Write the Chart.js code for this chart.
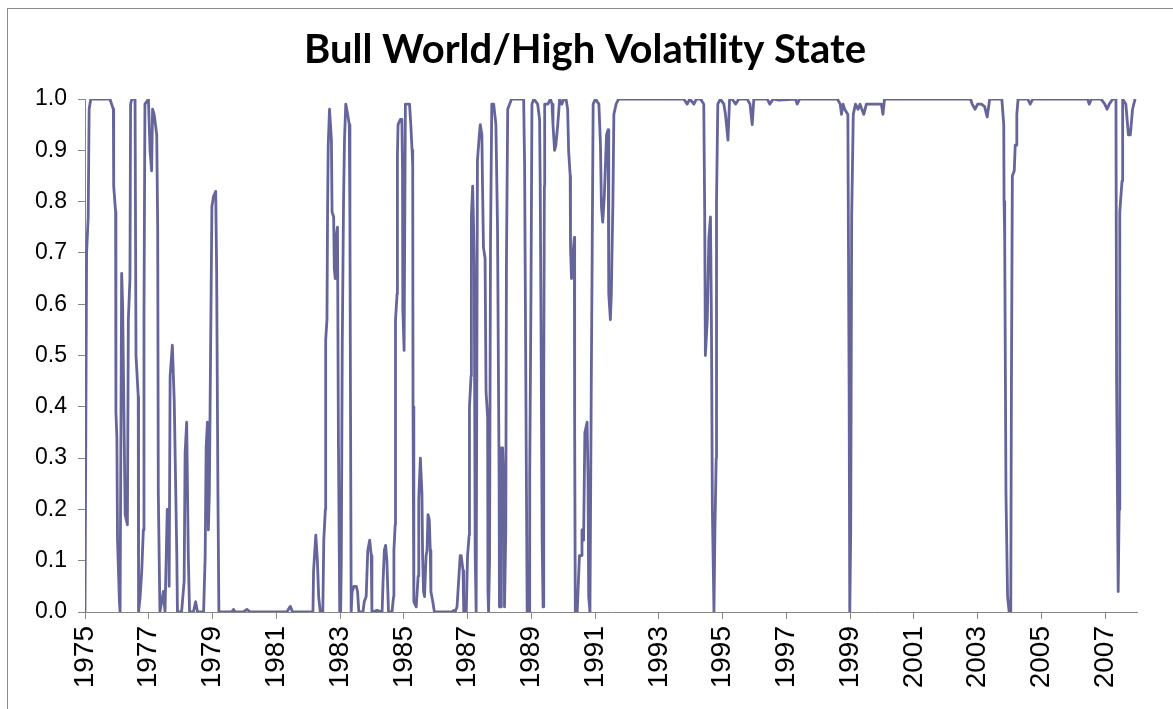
<!DOCTYPE html>
<html>
<head>
<meta charset="utf-8">
<script src="https://cdn.jsdelivr.net/npm/chart.js@4"></script>
<style>
  body { margin: 0; background: #fff; }
  #frame { position: absolute; left: 7px; top: 8px; width: 1200px; height: 720px; border: 1px solid #8c8c8c; }
  #wrap { position: absolute; left: 0; top: 0; width: 1173px; height: 709px; }
</style>
</head>
<body>
<div id="frame"></div>
<div id="wrap"><canvas id="state-chart"></canvas></div>
<script>
'use strict';

// decimal year of each turning point of the series
const years = [
  1975.00, 1975.05, 1975.10, 1975.13, 1975.18, 1975.78, 1975.89, 1975.90, 1975.96, 1975.97,
  1976.00, 1976.02, 1976.08, 1976.10, 1976.15, 1976.18, 1976.26, 1976.33, 1976.36, 1976.41,
  1976.43, 1976.47, 1976.57, 1976.60, 1976.67, 1976.68, 1976.73, 1976.78, 1976.83, 1976.85,
  1976.88, 1976.99, 1977.04, 1977.09, 1977.12, 1977.17, 1977.25, 1977.28, 1977.30, 1977.35,
  1977.46, 1977.51, 1977.58, 1977.63, 1977.64, 1977.67, 1977.74, 1977.80, 1977.88, 1977.90,
  1978.03, 1978.11, 1978.14, 1978.19, 1978.24, 1978.28, 1978.40, 1978.47, 1978.53, 1978.72,
  1978.77, 1978.80, 1978.84, 1978.87, 1978.90, 1978.98, 1979.03, 1979.10, 1979.13, 1979.17,
  1979.20, 1979.60, 1979.66, 1979.71, 1979.97, 1980.08, 1980.18, 1981.33, 1981.44, 1981.51,
  1982.15, 1982.17, 1982.24, 1982.29, 1982.33, 1982.38, 1982.46, 1982.49, 1982.54, 1982.55,
  1982.59, 1982.61, 1982.63, 1982.67, 1982.73, 1982.75, 1982.80, 1982.82, 1982.85, 1982.88,
  1982.92, 1982.95, 1982.99, 1983.02, 1983.04, 1983.07, 1983.11, 1983.14, 1983.18, 1983.24,
  1983.29, 1983.31, 1983.33, 1983.35, 1983.38, 1983.44, 1983.51, 1983.55, 1983.59, 1983.72,
  1983.76, 1983.82, 1983.87, 1983.93, 1983.98, 1984.00, 1984.16, 1984.32, 1984.35, 1984.39,
  1984.43, 1984.47, 1984.52, 1984.63, 1984.68, 1984.69, 1984.73, 1984.74, 1984.79, 1984.80,
  1984.82, 1984.89, 1984.94, 1984.96, 1984.97, 1985.01, 1985.05, 1985.12, 1985.18, 1985.22,
  1985.26, 1985.28, 1985.29, 1985.31, 1985.32, 1985.39, 1985.41, 1985.45, 1985.47, 1985.52,
  1985.57, 1985.59, 1985.62, 1985.65, 1985.70, 1985.73, 1985.76, 1985.80, 1985.83, 1985.85,
  1985.91, 1985.96, 1986.51, 1986.56, 1986.61, 1986.67, 1986.74, 1986.77, 1986.80, 1986.86,
  1986.88, 1986.96, 1987.00, 1987.05, 1987.06, 1987.11, 1987.12, 1987.16, 1987.19, 1987.21,
  1987.24, 1987.27, 1987.31, 1987.37, 1987.40, 1987.45, 1987.47, 1987.50, 1987.55, 1987.58,
  1987.63, 1987.64, 1987.66, 1987.69, 1987.72, 1987.76, 1987.82, 1987.89, 1987.94, 1987.99,
  1988.00, 1988.05, 1988.06, 1988.10, 1988.14, 1988.16, 1988.20, 1988.22, 1988.26, 1988.38,
  1988.76, 1988.79, 1988.84, 1988.87, 1988.93, 1988.95, 1988.99, 1989.02, 1989.08, 1989.20,
  1989.26, 1989.28, 1989.31, 1989.34, 1989.37, 1989.39, 1989.41, 1989.42, 1989.52, 1989.60,
  1989.65, 1989.68, 1989.73, 1989.77, 1989.83, 1989.89, 1989.96, 1990.02, 1990.09, 1990.14,
  1990.17, 1990.22, 1990.23, 1990.26, 1990.31, 1990.35, 1990.36, 1990.38, 1990.44, 1990.51,
  1990.56, 1990.59, 1990.64, 1990.68, 1990.75, 1990.78, 1990.80, 1990.84, 1990.88, 1990.91,
  1990.94, 1991.01, 1991.12, 1991.17, 1991.20, 1991.24, 1991.29, 1991.36, 1991.41, 1991.43,
  1991.48, 1991.51, 1991.56, 1991.59, 1991.66, 1991.74, 1993.78, 1993.89, 1993.97, 1994.10,
  1994.18, 1994.31, 1994.41, 1994.44, 1994.46, 1994.52, 1994.57, 1994.62, 1994.65, 1994.68,
  1994.73, 1994.76, 1994.80, 1994.81, 1994.85, 1994.93, 1995.04, 1995.09, 1995.17, 1995.22,
  1995.30, 1995.41, 1995.51, 1995.77, 1995.86, 1995.93, 1995.98, 1996.40, 1996.48, 1996.59,
  1996.77, 1997.29, 1997.34, 1997.42, 1998.60, 1998.69, 1998.73, 1998.78, 1998.83, 1998.93,
  1998.97, 1998.99, 1999.02, 1999.05, 1999.10, 1999.17, 1999.25, 1999.31, 1999.43, 1999.51,
  1999.71, 1999.80, 1999.90, 1999.98, 2000.03, 2000.08, 2002.78, 2002.83, 2002.92, 2003.00,
  2003.12, 2003.22, 2003.30, 2003.38, 2003.76, 2003.82, 2003.83, 2003.85, 2003.89, 2003.94,
  2003.99, 2004.04, 2004.06, 2004.09, 2004.15, 2004.18, 2004.22, 2004.23, 2004.27, 2004.57,
  2004.65, 2004.73, 2006.35, 2006.45, 2006.50, 2006.57, 2006.87, 2006.99, 2007.06, 2007.13,
  2007.24, 2007.34, 2007.36, 2007.41, 2007.44, 2007.46, 2007.53, 2007.55, 2007.65, 2007.73,
  2007.79, 2007.86, 2007.94
];

// probability of the bull world / high volatility state
const bullHighVol = [
  0.00, 0.70, 0.77, 0.98, 1.00, 1.00, 0.98, 0.83, 0.78, 0.39,
  0.34, 0.14, 0.02, 0.00, 0.66, 0.60, 0.19, 0.17, 0.57, 0.65,
  0.99, 1.00, 1.00, 0.50, 0.42, 0.00, 0.03, 0.08, 0.16, 0.57,
  0.99, 1.00, 0.90, 0.86, 0.98, 0.97, 0.93, 0.75, 0.23, 0.00,
  0.04, 0.00, 0.20, 0.20, 0.05, 0.46, 0.52, 0.41, 0.11, 0.00,
  0.00, 0.06, 0.31, 0.37, 0.11, 0.00, 0.00, 0.02, 0.00, 0.00,
  0.11, 0.32, 0.37, 0.16, 0.23, 0.79, 0.81, 0.82, 0.66, 0.23,
  0.00, 0.00, 0.005, 0.00, 0.00, 0.005, 0.00, 0.00, 0.011, 0.00,
  0.00, 0.08, 0.15, 0.10, 0.03, 0.00, 0.00, 0.14, 0.20, 0.53,
  0.57, 0.79, 0.91, 0.98, 0.92, 0.78, 0.77, 0.67, 0.65, 0.73,
  0.75, 0.33, 0.00, 0.00, 0.10, 0.52, 0.80, 0.92, 0.99, 0.97,
  0.95, 0.77, 0.38, 0.00, 0.04, 0.05, 0.05, 0.04, 0.00, 0.00,
  0.02, 0.03, 0.12, 0.14, 0.11, 0.00, 0.003, 0.00, 0.06, 0.12,
  0.13, 0.10, 0.00, 0.00, 0.03, 0.12, 0.17, 0.57, 0.62, 0.89,
  0.95, 0.96, 0.96, 0.86, 0.59, 0.51, 0.99, 0.99, 0.99, 0.95,
  0.90, 0.87, 0.40, 0.34, 0.02, 0.01, 0.01, 0.07, 0.22, 0.30,
  0.23, 0.11, 0.04, 0.03, 0.11, 0.12, 0.19, 0.18, 0.12, 0.04,
  0.02, 0.00, 0.00, 0.003, 0.00, 0.01, 0.08, 0.11, 0.11, 0.08,
  0.00, 0.00, 0.11, 0.15, 0.40, 0.46, 0.77, 0.83, 0.75, 0.68,
  0.11, 0.00, 0.88, 0.93, 0.95, 0.93, 0.83, 0.71, 0.69, 0.43,
  0.38, 0.04, 0.00, 0.10, 0.72, 0.99, 0.99, 0.95, 0.75, 0.26,
  0.01, 0.01, 0.32, 0.32, 0.24, 0.01, 0.16, 0.68, 0.98, 1.00,
  1.00, 0.87, 0.32, 0.00, 0.00, 0.26, 0.62, 0.99, 1.00, 0.99,
  0.96, 0.83, 0.50, 0.14, 0.01, 0.44, 0.83, 0.99, 0.99, 1.00,
  0.99, 0.95, 0.90, 0.91, 0.95, 1.00, 0.99, 1.00, 1.00, 0.98,
  0.90, 0.85, 0.71, 0.65, 0.70, 0.73, 0.36, 0.00, 0.00, 0.11,
  0.11, 0.16, 0.14, 0.35, 0.37, 0.26, 0.03, 0.00, 0.43, 0.70,
  0.99, 1.00, 0.99, 0.91, 0.79, 0.76, 0.81, 0.93, 0.94, 0.62,
  0.57, 0.62, 0.80, 0.97, 0.99, 1.00, 1.00, 0.99, 1.00, 0.99,
  1.00, 1.00, 0.99, 0.77, 0.50, 0.57, 0.73, 0.77, 0.57, 0.20,
  0.00, 0.16, 0.30, 0.80, 0.99, 1.00, 0.99, 0.97, 0.92, 1.00,
  1.00, 0.99, 1.00, 1.00, 0.99, 0.95, 1.00, 1.00, 0.99, 1.00,
  0.998, 1.00, 0.99, 1.00, 1.00, 0.99, 0.97, 0.99, 0.98, 0.97,
  0.43, 0.00, 0.16, 0.77, 0.97, 0.99, 0.98, 0.99, 0.97, 0.99,
  0.99, 0.99, 0.99, 0.99, 0.97, 1.00, 1.00, 0.99, 0.98, 0.99,
  0.99, 0.985, 0.965, 1.00, 1.00, 0.95, 0.80, 0.73, 0.23, 0.03,
  0.00, 0.00, 0.43, 0.85, 0.86, 0.91, 0.91, 0.97, 1.00, 1.00,
  0.99, 1.00, 1.00, 1.00, 0.99, 1.00, 1.00, 0.99, 0.98, 0.99,
  1.00, 1.00, 0.45, 0.04, 0.20, 0.78, 0.84, 1.00, 0.99, 0.93,
  0.93, 0.98, 1.00
];

const xTickYears = [1975, 1977, 1979, 1981, 1983, 1985, 1987, 1989, 1991,
                    1993, 1995, 1997, 1999, 2001, 2003, 2005, 2007];
const chartTitle = 'Bull World/High Volatility State';

let StateChart = function(){

    var _draw = function(){
        var ctx = document.getElementById('state-chart').getContext('2d');
        var points = years.map((y, i) => ({ x: y, y: bullHighVol[i] }));
        var axisGrey = '#868686';

        var config = {
            type : 'line',
            data : {
                datasets : [{
                    label : chartTitle,
                    data : points,
                    borderColor : '#65659b',
                    borderWidth : 2.8,
                    borderJoinStyle : 'round',
                    pointRadius : 0,
                    tension : 0,
                    fill : false
                }]
            },
            options : {
                responsive : true,
                maintainAspectRatio : false,
                animation : false,
                // left padding nudges the title centre right; y labels must stay inside the axis box
                layout : { padding : { left : 33, right : 36, top : 0, bottom : 0 } },
                plugins : {
                    legend : { display : false },
                    tooltip : { enabled : false },
                    title : {
                        display : true,
                        text : chartTitle,
                        color : '#000',
                        font : { family : 'Lato', weight : 'bold', size : 40 },
                        padding : { top : 26, bottom : 25 }
                    }
                },
                scales : {
                    x : {
                        type : 'linear',
                        min : 1975,
                        max : 2008,
                        afterBuildTicks : function(scale){
                            scale.ticks = xTickYears.map(v => ({ value : v }));
                        },
                        afterFit : function(scale){ scale.height = 97; },
                        grid : { drawOnChartArea : false, color : axisGrey, tickLength : 7 },
                        border : { color : axisGrey },
                        ticks : {
                            autoSkip : false,
                            minRotation : 90,
                            maxRotation : 90,
                            padding : 7,
                            color : '#000',
                            font : { family : 'Liberation Sans', size : 28 },
                            callback : v => String(v)
                        }
                    },
                    y : {
                        min : 0,
                        max : 1,
                        afterFit : function(scale){ scale.width = 52; },
                        grid : { drawOnChartArea : false, color : axisGrey, tickLength : 7 },
                        border : { color : axisGrey },
                        ticks : {
                            stepSize : 0.1,
                            padding : 11,
                            color : '#000',
                            font : { family : 'Liberation Sans', size : 23 },
                            callback : v => v.toFixed(1)
                        }
                    }
                }
            }
        };

        window.stateChart = new Chart(ctx, config);
    };

    return {
        init : function(){
            _draw();
        }
    };

}();

document.addEventListener('DOMContentLoaded', function(){
    StateChart.init();
});
</script>
</body>
</html>
